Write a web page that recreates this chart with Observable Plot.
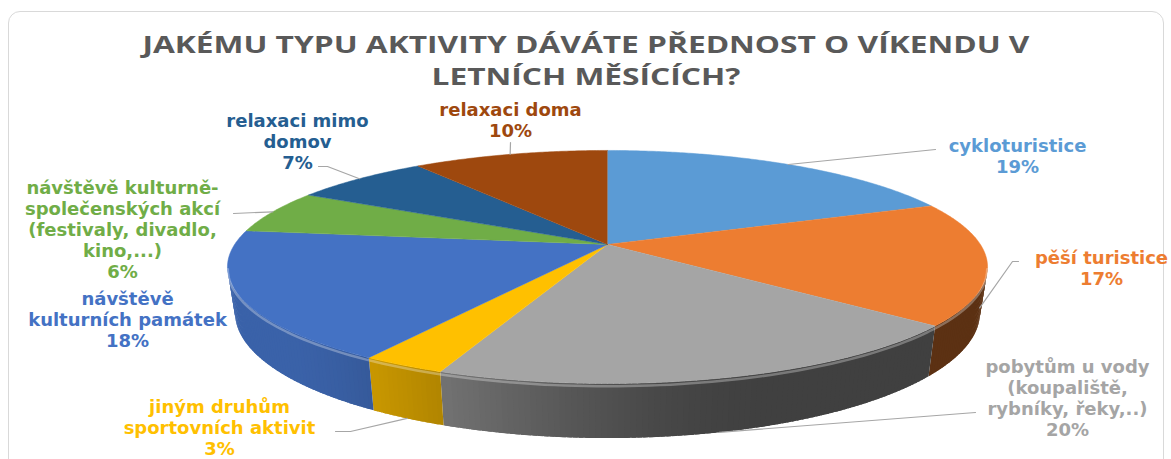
<!DOCTYPE html>
<html>
<head>
<meta charset="utf-8">
<script src="https://cdn.jsdelivr.net/npm/d3@7"></script>
<script src="https://cdn.jsdelivr.net/npm/@observablehq/plot@0.6"></script>
<style>
html, body { margin: 0; padding: 0; background: #fff; }
#wrap { position: relative; width: 1171px; height: 459px; overflow: hidden; background: #fff; }
#frame { position: absolute; left: 8px; top: 11px; width: 1156px; height: 460px; border: 1.5px solid #d9d9d9; border-radius: 12px; box-sizing: border-box; }
#chart { position: absolute; left: 0; top: 0; }
.title { position: absolute; left: 0; width: 1171px; text-align: center; font-family: "Open Sans", sans-serif; font-weight: 700; font-size: 24px; line-height: 32px; color: #595959; white-space: nowrap; }
.title div { height: 32px; }
.title span { display: inline-block; transform-origin: 50% 50%; }
</style>
</head>
<body>
<div id="wrap">
  <div id="frame"></div>
  <div id="chart"></div>
  <div class="title" id="title"></div>
</div>
<script>
// ---------------- data ----------------
const titleLines = ["JAKÉMU TYPU AKTIVITY DÁVÁTE PŘEDNOST O VÍKENDU V", "LETNÍCH MĚSÍCÍCH?"];
const categories = [
  "cykloturistice",
  "pěší turistice",
  "pobytům u vody (koupaliště, rybníky, řeky,..)",
  "jiným druhům sportovních aktivit",
  "návštěvě kulturních památek",
  "návštěvě kulturně-společenských akcí (festivaly, divadlo, kino,...)",
  "relaxaci mimo domov",
  "relaxaci doma"
];
const values = [19, 17, 20, 3, 18, 6, 7, 10];
const labelLines = [
  ["cykloturistice"],
  ["pěší turistice"],
  ["pobytům u vody", "(koupaliště,", "rybníky, řeky,..)"],
  ["jiným druhům", "sportovních aktivit"],
  ["návštěvě", "kulturních památek"],
  ["návštěvě kulturně-", "společenských akcí", "(festivaly, divadlo,", "kino,...)"],
  ["relaxaci mimo", "domov"],
  ["relaxaci doma"]
];
const colors = ["#5B9BD5", "#ED7D31", "#A5A5A5", "#FFC000", "#4472C4", "#70AD47", "#255E91", "#9E480E"];

// ---------------- layout (positions / styles) ----------------
const W = 1171, H = 459;
const pie = { cx: 607, cy: 244, A: 372.9, B: 112.2, k: 0.193, D: 44, shrink: 0.98 };
const labelPos = [[1017, 155.5], [1101, 267.5], [1067, 397], [219, 427], [127, 319], [122, 229], [297, 141], [510, 119]];
const leaderStart = [[[935, 149]], [[1018, 261], [1012, 261]], [[975, 412]], [[335, 431], [350, 431]], null, [[233, 213]], [[318, 166], [327, 166]], [[510, 142]]];
const leaderDepth = [0, 1, 1, 1, null, 0, 0, 0];
const labelFont = { size: 18, family: "DejaVu Sans", stretch: 1.07, lineHeight: 1.17 };
const titleWidth = 887, titleTop = 28;

// ---------------- geometry ----------------
const TAU = Math.PI * 2, DEG = Math.PI / 180;
function proj(theta, f = 0) {
  const u = Math.sin(theta), v = -Math.cos(theta), w = 1 - pie.k * v;
  const x = pie.cx + pie.A * u / w, y = pie.cy + pie.B * v / w;
  return [pie.cx + (x - pie.cx) * (1 - (1 - pie.shrink) * f), y + f * pie.D / w];
}
function shade(tDeg) {
  const t = Math.min(1, Math.max(0, (tDeg - 160) / 70));
  const s = t * t * (3 - 2 * t);
  return 0.39 + 0.47 * s;
}
const total = d3.sum(values);
let acc = 0;
const slices = values.map((v, i) => {
  const a0 = acc / total * TAU; acc += v; const a1 = acc / total * TAU;
  return { i, a0, a1, mid: (a0 + a1) / 2 };
});

// top faces
const topRows = [];
slices.forEach(s => {
  const n = Math.max(2, Math.ceil((s.a1 - s.a0) / (0.5 * DEG)));
  topRows.push({ id: s.i, x: pie.cx, y: pie.cy, c: colors[s.i] });
  for (let j = 0; j <= n; j++) {
    const [x, y] = proj(s.a0 + (s.a1 - s.a0) * j / n, 0);
    topRows.push({ id: s.i, x, y, c: colors[s.i] });
  }
});

// side walls (visible front part), shaded in thin overlapping strips
const vis0 = Math.acos(-pie.k), vis1 = TAU - Math.acos(-pie.k);
const sideRows = [];
slices.forEach(s => {
  const t0 = Math.max(s.a0, vis0), t1 = Math.min(s.a1, vis1);
  if (t0 >= t1) return;
  const n = Math.max(1, Math.ceil((t1 - t0) / (0.75 * DEG)));
  const base = d3.rgb(colors[s.i]);
  for (let j = 0; j < n; j++) {
    const ta = t0 + (t1 - t0) * j / n;
    const tb = Math.min(t1, t0 + (t1 - t0) * (j + 1) / n + 0.6 * DEG);
    const f = shade((ta + tb) / 2 / DEG);
    const c = d3.rgb(base.r * f, base.g * f, base.b * f).formatHex();
    const id = `${s.i}-${j}`;
    const pts = [];
    for (let q = 0; q <= 3; q++) pts.push(proj(ta + (tb - ta) * q / 3, 0));
    for (let q = 3; q >= 0; q--) pts.push(proj(ta + (tb - ta) * q / 3, 1));
    pts.forEach(([x, y]) => sideRows.push({ id, x, y, c }));
  }
});

// shadow under the pie
const shadowRows = [];
for (let j = 0; j <= 180; j++) {
  const [x, y] = proj(j / 180 * TAU, 1);
  shadowRows.push({ x, y: y + 4 });
}

// rim highlight
const rimRows = [];
for (let j = 0; j <= 120; j++) {
  const [x, y] = proj(vis0 + (vis1 - vis0) * j / 120, 0.05);
  rimRows.push({ x, y });
}

// labels
const labelRows = values.map((v, i) => ({
  x: labelPos[i][0], y: labelPos[i][1],
  text: labelLines[i].join("\n") + "\n" + v + "%",
  c: colors[i]
}));

// leader lines
const leaderRows = [];
slices.forEach(s => {
  const st = leaderStart[s.i];
  if (!st) return;
  st.forEach(([x, y]) => leaderRows.push({ id: s.i, x, y }));
  const [x, y] = proj(s.mid, leaderDepth[s.i]);
  leaderRows.push({ id: s.i, x, y });
});

// ---------------- plot ----------------
const chart = Plot.plot({
  width: W, height: H, margin: 0,
  style: { background: "transparent", overflow: "visible" },
  x: { domain: [0, W], range: [0, W], axis: null },
  y: { domain: [0, H], range: [0, H], axis: null },
  color: { type: "identity" },
  marks: [
    Plot.line(shadowRows, { x: "x", y: "y", fill: "#000", fillOpacity: 0.28, stroke: "none", ariaLabel: "shadow" }),
    Plot.line(sideRows, { x: "x", y: "y", z: "id", fill: "c", stroke: "none" }),
    Plot.line(topRows, { x: "x", y: "y", z: "id", fill: "c", stroke: "c", strokeWidth: 0.5 }),
    Plot.line(rimRows, { x: "x", y: "y", stroke: "#fff", strokeOpacity: 0.3, strokeWidth: 2.5 }),
    Plot.line(leaderRows, { x: "x", y: "y", z: "id", stroke: "#a6a6a6", strokeWidth: 1.2 }),
    Plot.text(labelRows, {
      x: "x", y: "y", text: "text", fill: "c",
      fontSize: labelFont.size, fontFamily: labelFont.family, fontWeight: "bold",
      lineHeight: labelFont.lineHeight, textAnchor: "middle", ariaLabel: "labels"
    })
  ]
});
document.getElementById("chart").appendChild(chart);

// soft shadow blur
d3.select(chart).selectAll('g[aria-label="shadow"]').style("filter", "blur(6px)");
// horizontal stretch of label text (matching the reference's wide lettering)
d3.select(chart).selectAll('g[aria-label="labels"] text').each(function () {
  const el = d3.select(this);
  const tr = el.attr("transform");
  if (tr) {
    el.attr("transform", tr + ` scale(${labelFont.stretch},1)`);
  } else {
    const x = +el.attr("x") || 0, y = +el.attr("y") || 0;
    el.attr("x", null).attr("y", null).attr("transform", `translate(${x},${y}) scale(${labelFont.stretch},1)`);
  }
});

// title
const titleEl = document.getElementById("title");
titleEl.style.top = titleTop + "px";
const spans = titleLines.map(t => {
  const line = document.createElement("div");
  const sp = document.createElement("span");
  sp.textContent = t;
  line.appendChild(sp);
  titleEl.appendChild(line);
  return sp;
});
const sc = titleWidth / spans[0].getBoundingClientRect().width;
spans.forEach(sp => sp.style.transform = `scaleX(${sc})`);
</script>
</body>
</html>
